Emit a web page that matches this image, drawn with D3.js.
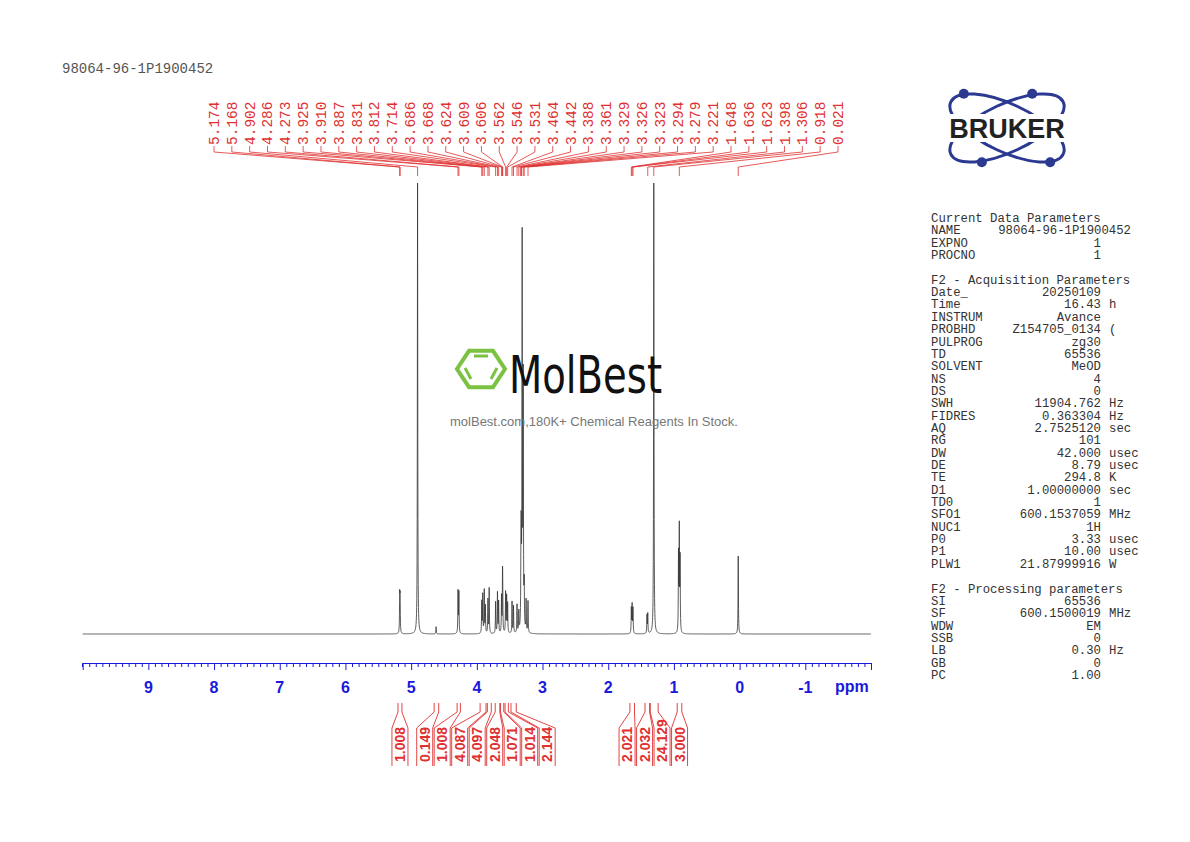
<!DOCTYPE html>
<html lang="en">
<head>
<meta charset="UTF-8">
<title>98064-96-1P1900452</title>
<script src="https://d3js.org/d3.v7.min.js"></script>
<style>
    body { margin: 0; background: #fff; }
    svg text { font-family: "Liberation Mono", "DejaVu Sans Mono", monospace; }
</style>
</head>
<body>
<svg id="chart" width="1190" height="842"></svg>
<script>
    // peak picking labels (ppm)
    const peakLabels = [5.174, 5.168, 4.902, 4.286, 4.273, 3.925, 3.910, 3.887, 3.831, 3.812,
        3.714, 3.686, 3.668, 3.624, 3.609, 3.606, 3.562, 3.546, 3.531, 3.464, 3.442, 3.388,
        3.361, 3.329, 3.326, 3.323, 3.294, 3.279, 3.221, 1.648, 1.636, 1.623, 1.398, 1.306,
        0.918, 0.021];
    // spectrum lines: ppm and relative height (0..100 = full plot)
    const peakPpm = [5.174, 5.168, 4.902, 4.62, 4.286, 4.273, 3.925, 3.910, 3.887, 3.870,
        3.831, 3.812, 3.714, 3.686, 3.668, 3.624, 3.609, 3.606, 3.562, 3.546, 3.531, 3.464,
        3.442, 3.388, 3.361, 3.329, 3.326, 3.323, 3.31, 3.294, 3.279, 3.25, 3.221,
        1.648, 1.636, 1.623, 1.41, 1.398, 1.306, 0.930, 0.918, 0.906, 0.021];
    const peakHeight = [8, 7.5, 100, 1.6, 9.3, 9, 7, 8.5, 9.5, 6, 7.5, 10, 7, 9, 7, 8, 10, 7,
        9, 8, 6.5, 7, 6, 6.2, 4.5, 9.5, 12, 9, 86, 55, 9, 7, 7,
        5.5, 6.2, 5.5, 4, 4.3, 100, 17, 22.5, 16, 17.3];
    // integrals: [from, to] ppm and value
    const intFrom = [5.20, 4.65, 4.30, 3.95, 3.84, 3.72, 3.64, 3.57, 3.48, 1.67, 1.44, 1.36, 0.95];
    const intTo   = [5.14, 4.58, 4.25, 3.86, 3.78, 3.65, 3.59, 3.52, 3.40, 1.60, 1.37, 1.24, 0.88];
    const intValue = ["1.008", "0.149", "1.008", "4.087", "4.097", "2.048", "1.071", "1.014",
        "2.144", "2.021", "2.032", "24.129", "3.000"];
    const axisTicks = [9, 8, 7, 6, 5, 4, 3, 2, 1, 0, -1];
    const paramLines = [
        ["Current Data Parameters", ""], ["NAME", "98064-96-1P1900452"], ["EXPNO", "1"], ["PROCNO", "1"], ["", ""],
        ["F2 - Acquisition Parameters", ""], ["Date_", "20250109"], ["Time", "16.43 h"],
        ["INSTRUM", "Avance"], ["PROBHD", "Z154705_0134 ("], ["PULPROG", "zg30"], ["TD", "65536"],
        ["SOLVENT", "MeOD"], ["NS", "4"], ["DS", "0"], ["SWH", "11904.762 Hz"],
        ["FIDRES", "0.363304 Hz"], ["AQ", "2.7525120 sec"], ["RG", "101"], ["DW", "42.000 usec"],
        ["DE", "8.79 usec"], ["TE", "294.8 K"], ["D1", "1.00000000 sec"], ["TD0", "1"],
        ["SFO1", "600.1537059 MHz"], ["NUC1", "1H"], ["P0", "3.33 usec"], ["P1", "10.00 usec"],
        ["PLW1", "21.87999916 W"], ["", ""], ["F2 - Processing parameters", ""], ["SI", "65536"],
        ["SF", "600.1500019 MHz"], ["WDW", "EM"], ["SSB", "0"], ["LB", "0.30 Hz"], ["GB", "0"], ["PC", "1.00"]];

    const svg = d3.select("#chart");
    const red = "#e03030", blue = "#1a1adc";

    const x = d3.scaleLinear().domain([10.01, -2.0]).range([82, 871]);
    const y = d3.scaleLinear().domain([0, 100]).range([634, 183]);

    svg.append("text").attr("x", 62).attr("y", 73).attr("font-size", 14)
        .attr("fill", "#555").text("98064-96-1P1900452");

    // spectrum as a sum of lorentzians
    const w = 0.0035;
    let grid = d3.range(10.0, -2.0, -0.002).concat(peakPpm);
    grid.sort((a, b) => b - a);
    const spec = grid.map(p => {
        let s = 0;
        peakPpm.forEach((c, i) => { s += peakHeight[i] / (1 + ((p - c) / w) ** 2); });
        return [p, Math.min(s, 100)];
    });
    svg.append("path").datum(spec)
        .attr("fill", "none").attr("stroke", "#333").attr("stroke-width", 0.8)
        .attr("d", d3.line().x(d => x(d[0])).y(d => y(d[1])));

    // axis
    const axis = d3.axisBottom(x).tickValues(d3.range(-20, 101).map(v => v / 10))
        .tickSize(4).tickFormat("");
    const ag = svg.append("g").attr("transform", "translate(0,663)").call(axis);
    ag.selectAll("path,line").attr("stroke", blue);
    ag.selectAll(".tick").filter(d => Math.abs(d - Math.round(d)) < 1e-6)
        .select("line").attr("y2", 7);
    axisTicks.forEach(t => {
        svg.append("text").attr("x", x(t)).attr("y", 693).attr("text-anchor", "middle")
            .attr("font-weight", "bold").attr("font-size", 16).attr("fill", blue)
            .style("font-family", "Liberation Sans").text(t);
    });
    svg.append("text").attr("x", 835).attr("y", 692).attr("font-weight", "bold")
        .attr("font-size", 16).attr("fill", blue).style("font-family", "Liberation Sans").text("ppm");

    // peak labels at the top
    const lx = d3.scaleLinear().domain([0, peakLabels.length - 1]).range([214, 838]);
    peakLabels.forEach((p, i) => {
        const tx = lx(i), px = x(p);
        svg.append("text").attr("transform", `translate(${tx + 5},145) rotate(-90)`)
            .attr("font-size", 14.5).attr("fill", red).text(p.toFixed(3));
        svg.append("path").attr("fill", "none").attr("stroke", red).attr("stroke-width", 0.8)
            .attr("d", `M${tx},146 V152 L${px},167 V176`);
    });

    // integrals below the axis
    const centers = intFrom.map((f, i) => x((f + intTo[i]) / 2));
    const pos = centers.slice();
    for (let k = 0; k < 50; k++) {
        for (let i = 1; i < pos.length; i++) {
            if (pos[i] - pos[i - 1] < 17.5) {
                const d = (17.5 - (pos[i] - pos[i - 1])) / 2;
                pos[i - 1] -= d; pos[i] += d;
            }
        }
    }
    intValue.forEach((v, i) => {
        const a = x(intFrom[i]), b = x(intTo[i]), c = pos[i];
        svg.append("path").attr("fill", "none").attr("stroke", red).attr("stroke-width", 0.9)
            .attr("d", `M${a},703 V712 L${c - 8},728 V766 M${b},703 V712 L${c + 8},728 V766`);
        svg.append("text").attr("transform", `translate(${c + 5},762) rotate(-90)`)
            .attr("font-size", 14).attr("font-weight", "bold").attr("fill", red)
            .style("font-family", "Liberation Sans").text(v);
    });

    // watermark
    const wm = svg.append("g").attr("transform", "translate(481,369)");
    const hex = d3.range(6).map(k => [24 * Math.cos(k * Math.PI / 3), 21 * Math.sin(k * Math.PI / 3)]);
    wm.append("polygon").attr("points", hex.map(p => p.join(",")).join(" "))
        .attr("fill", "none").attr("stroke", "#7cc242").attr("stroke-width", 4);
    wm.append("path").attr("fill", "none").attr("stroke", "#7cc242").attr("stroke-width", 3)
        .attr("d", "M-7,-13 H7 M-16,-1 L-10,10 M16,-1 L10,10");
    svg.append("text").attr("x", 509).attr("y", 393).attr("font-size", 52)
        .attr("textLength", 153).attr("lengthAdjust", "spacingAndGlyphs")
        .style("font-family", "DejaVu Sans Condensed").attr("fill", "#111").text("MolBest");
    svg.append("text").attr("x", 594).attr("y", 426).attr("text-anchor", "middle")
        .attr("font-size", 13).attr("fill", "#777").style("font-family", "Liberation Sans")
        .text("molBest.com,180K+ Chemical Reagents In Stock.");

    // bruker logo
    const lg = svg.append("g").attr("transform", "translate(1007,128)");
    [-25, 25].forEach(r => lg.append("ellipse").attr("rx", 62).attr("ry", 24)
        .attr("transform", `rotate(${r})`).attr("fill", "none").attr("stroke", "#2b3990").attr("stroke-width", 3));
    [[-48, -38], [48, 38], [-28, 38], [28, -38]].forEach(p => lg.append("circle")
        .attr("cx", p[0] * 0.9).attr("cy", p[1] * 0.9).attr("r", 5).attr("fill", "#2b3990"));
    lg.append("rect").attr("x", -82).attr("y", -14).attr("width", 164).attr("height", 28).attr("fill", "#fff");
    lg.append("text").attr("y", 10).attr("text-anchor", "middle").attr("font-size", 27)
        .attr("font-weight", "bold").style("font-family", "Liberation Sans").attr("fill", "#222")
        .text("BRUKER");

    // parameter block
    const fs = 12.3;
    paramLines.forEach((l, i) => {
        const ty = 222 + i * 12.35;
        svg.append("text").attr("x", 931).attr("y", ty).attr("font-size", fs).attr("fill", "#333")
            .text(l[0]);
        if (l[1]) {
            if (l[0] === "NAME") {
                svg.append("text").attr("x", 1131).attr("y", ty).attr("text-anchor", "end")
                    .attr("font-size", fs).attr("fill", "#333").text(l[1]);
                return;
            }
            const parts = l[1].split(" ");
            svg.append("text").attr("x", 1101).attr("y", ty).attr("text-anchor", "end")
                .attr("font-size", fs).attr("fill", "#333").text(parts[0]);
            if (parts[1]) svg.append("text").attr("x", 1109).attr("y", ty)
                .attr("font-size", fs).attr("fill", "#333").text(parts[1]);
        }
    });
</script>
</body>
</html>
